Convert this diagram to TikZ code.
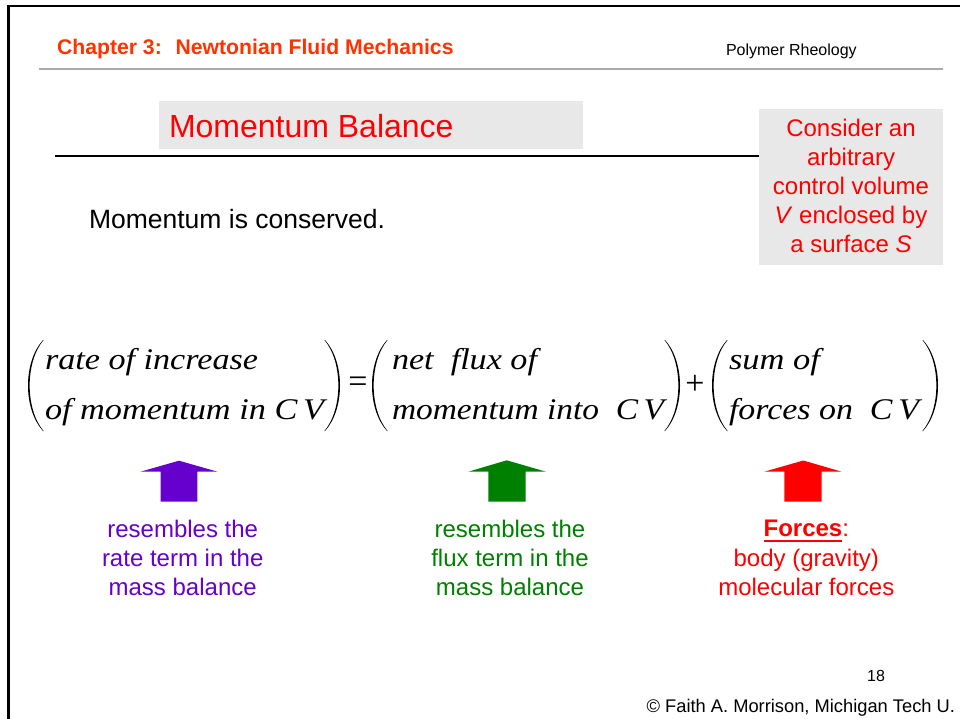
\documentclass[tikz,border=0pt]{standalone}
\usepackage{fontspec}
\setmainfont{Liberation Sans}
\newfontfamily\eqfont{Liberation Serif}
\usepackage{graphicx}
\definecolor{hdr}{RGB}{255,51,0}
\definecolor{purp}{RGB}{102,0,204}
\definecolor{grn}{RGB}{0,128,0}
\definecolor{rd}{RGB}{255,0,0}
\definecolor{boxgray}{RGB}{232,232,232}
\definecolor{rulegray}{RGB}{170,170,170}
\newcommand\fs[1]{\fontsize{#1}{#1}\selectfont}
\newcommand\eqline[2]{\resizebox{#1pt}{\height}{\eqfont\itshape\fs{30}#2}}
\newcommand\myul[1]{\setbox0\hbox{#1}\rlap{\rule[-5.7pt]{\wd0}{2.4pt}}\box0}
\begin{document}
\begin{tikzpicture}[x=1pt,y=-1pt,
  t/.style={inner sep=0,outer sep=0},
  lpar/.pic={\fill (15,0) .. controls (-5,22) and (-5,69) .. (15,91) -- (15.6,91) .. controls (-3,69) and (-3,22) .. (15.6,0) -- cycle;}]
\useasboundingbox (0,0) rectangle (960,719);
\fill[white] (0,0) rectangle (960,719);
% frame
\draw[line width=2.5pt] (8.7,722) -- (8.7,6.2) -- (963,6.2);
% header
\node[t,anchor=base west,text=hdr] (chap) at (57,54.3) {\fs{21.2}\bfseries Chapter 3:~ Newtonian Fluid Mechanics};
\node[t,anchor=base west] (course) at (726,56) {\fs{16}Polymer Rheology};
\draw[rulegray,line width=2pt] (39,69) -- (943,69);
% title
\fill[boxgray] (159,101) rectangle (583,149);
\node[t,anchor=base west,text=rd] (title) at (169,137.5) {\fs{32}Momentum Balance};
% consider box
\fill[boxgray] (759,109) rectangle (943,264.5);
\coordinate (boxleft) at (759,156.5);
\coordinate (rulestart) at (55,156.5);
\draw[line width=2pt] (rulestart) -- (boxleft);
\begin{scope}[every node/.style={t,anchor=base,text=rd}]
\node (c1) at (851,136.7) {\fs{24}Consider an};
\node (c2) at (851,165.7) {\fs{24}arbitrary};
\node (c3) at (851,194.7) {\fs{24}control volume};
\node (c4) at (851,223.7) {\fs{24}\textit{V} enclosed by};
\node (c5) at (851,252.7) {\fs{24}a surface \textit{S}};
\end{scope}
\node[t,anchor=base west] (cons) at (89,228.5) {\fs{26.5}Momentum is conserved.};
% equation
\pic at (28,340) {lpar};
\pic[xscale=-1] at (340,340) {lpar};
\pic at (372,340) {lpar};
\pic[xscale=-1] at (680,340) {lpar};
\pic at (712,340) {lpar};
\pic[xscale=-1] at (938,340) {lpar};
\node[t] (eq) at (358,385) {\eqfont\fs{34}=};
\node[t] (plus) at (695,385) {\eqfont\fs{34}+};
\node[t,anchor=base west] (r1) at (45,369) {\eqline{213}{rate of increase}};
\node[t,anchor=base west] (r2) at (45,419) {\eqline{279}{of momentum in C\,V}};
\node[t,anchor=base west] (n1) at (392,369) {\eqline{145}{net\ \ flux of}};
\node[t,anchor=base west] (n2) at (392,419) {\eqline{272}{momentum into\ \ C\,V}};
\node[t,anchor=base west] (s1) at (729,369) {\eqline{91}{sum of}};
\node[t,anchor=base west] (s2) at (729,419) {\eqline{190}{forces on\ \ C\,V}};
% block arrows
\fill[purp] (179,460.7) -- (217.5,471.7) -- (197.3,471.7) -- (197.3,501.7) -- (160.7,501.7) -- (160.7,471.7) -- (140.5,471.7) -- cycle;
\fill[grn] (506.7,460.3) -- (546,471.7) -- (525.7,471.7) -- (525.7,501.7) -- (488.3,501.7) -- (488.3,471.7) -- (468.3,471.7) -- cycle;
\fill[rd] (803.3,460.5) -- (841.7,471.7) -- (821.7,471.7) -- (821.7,501.7) -- (784.3,501.7) -- (784.3,471.7) -- (764.3,471.7) -- cycle;
% notes
\begin{scope}[every node/.style={t,anchor=base}]
\node[text=purp] (p1) at (182.7,537.3) {\fs{24}resembles the};
\node[text=purp] (p2) at (182.7,566.3) {\fs{24}rate term in the};
\node[text=purp] (p3) at (182.7,595.3) {\fs{24}mass balance};
\node[text=grn] (g1) at (510,537.3) {\fs{24}resembles the};
\node[text=grn] (g2) at (510,566.3) {\fs{24}flux term in the};
\node[text=grn] (g3) at (510,595.3) {\fs{24}mass balance};
\node[text=rd] (f1) at (806.3,536.5) {\fs{24}\myul{\bfseries Forces}:};
\node[text=rd] (f2) at (806.3,566.3) {\fs{24}body (gravity)};
\node[text=rd] (f3) at (806.3,595.3) {\fs{24}molecular forces};
\end{scope}
% footer
\node[t,anchor=base] (pg) at (876,681.5) {\fs{16}18};
\node[t,anchor=base east] (copy) at (955,712.5) {\fs{18.3}© Faith A. Morrison, Michigan Tech U.};
\end{tikzpicture}
\end{document}
